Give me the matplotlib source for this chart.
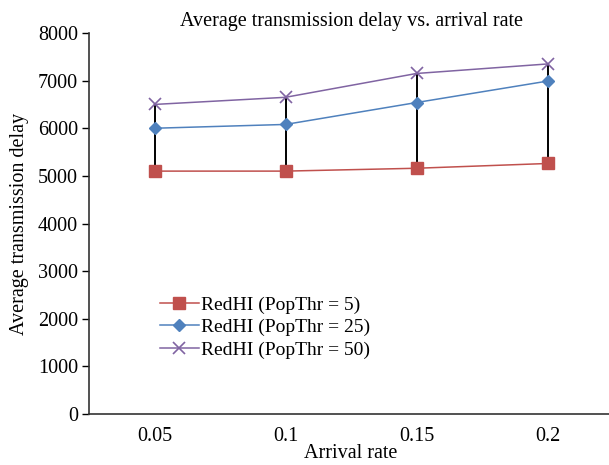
import numpy as np
import matplotlib
matplotlib.use("Agg")
import matplotlib.pyplot as plt

# data
rates = ["0.05", "0.1", "0.15", "0.2"]
delay_thr5 = [5100, 5100, 5160, 5260]
delay_thr25 = [6000, 6080, 6540, 6990]
delay_thr50 = [6500, 6650, 7150, 7350]
y_ticks = [0, 1000, 2000, 3000, 4000, 5000, 6000, 7000, 8000]

plt.rcParams['font.family'] = ['Liberation Serif', 'DejaVu Serif']

fig = plt.figure(figsize=(6.09, 4.65), dpi=100)
ax = fig.add_axes([89/609, 1 - 414/465, 524/609, (414 - 33)/465])

x = np.arange(len(rates))
all_series = np.array([delay_thr5, delay_thr25, delay_thr50])
# high-low lines between lowest and highest series
ax.vlines(x, all_series.min(axis=0), all_series.max(axis=0), color='black', lw=1.4, zorder=1)

ax.plot(x, delay_thr5, color='#C0504D', lw=1.1, marker='s', ms=8.5, mec='#C0504D',
        label='RedHI (PopThr = 5)', zorder=3)
ax.plot(x, delay_thr25, color='#4F81BD', lw=1.1, marker='D', ms=6.5, mec='#4F81BD',
        label='RedHI (PopThr = 25)', zorder=3)
ax.plot(x, delay_thr50, color='#8064A2', lw=1.1, marker='x', ms=8, mew=1.2,
        label='RedHI (PopThr = 50)', zorder=3)

ax.set_xlim(-0.5, 3.5)
ax.set_ylim(0, 8000)
ax.set_xticks(x)
ax.set_xticklabels(rates)
ax.set_yticks(y_ticks)
ax.tick_params(axis='x', length=0, labelsize=14.5, pad=9)
ax.tick_params(axis='y', length=5, width=1, labelsize=14.5, pad=3)
for s in ['top', 'right']:
    ax.spines[s].set_visible(False)
ax.spines['left'].set_color('#333333')
ax.spines['bottom'].set_color('#333333')
ax.spines['left'].set_linewidth(1.2)
ax.spines['bottom'].set_linewidth(1.2)

ax.set_xlabel('Arrival rate', fontsize=14.5, labelpad=-1)
ax.set_ylabel('Average transmission delay', fontsize=14.5, labelpad=6)
ax.set_title('Average transmission delay vs. arrival rate', fontsize=14.5, pad=5)

ax.legend(loc='upper left', bbox_to_anchor=(0.12, 0.33), frameon=False, fontsize=14,
          handlelength=2.0, handletextpad=0.15, labelspacing=0.25, borderaxespad=0)

fig.savefig('out.png', dpi=100)
